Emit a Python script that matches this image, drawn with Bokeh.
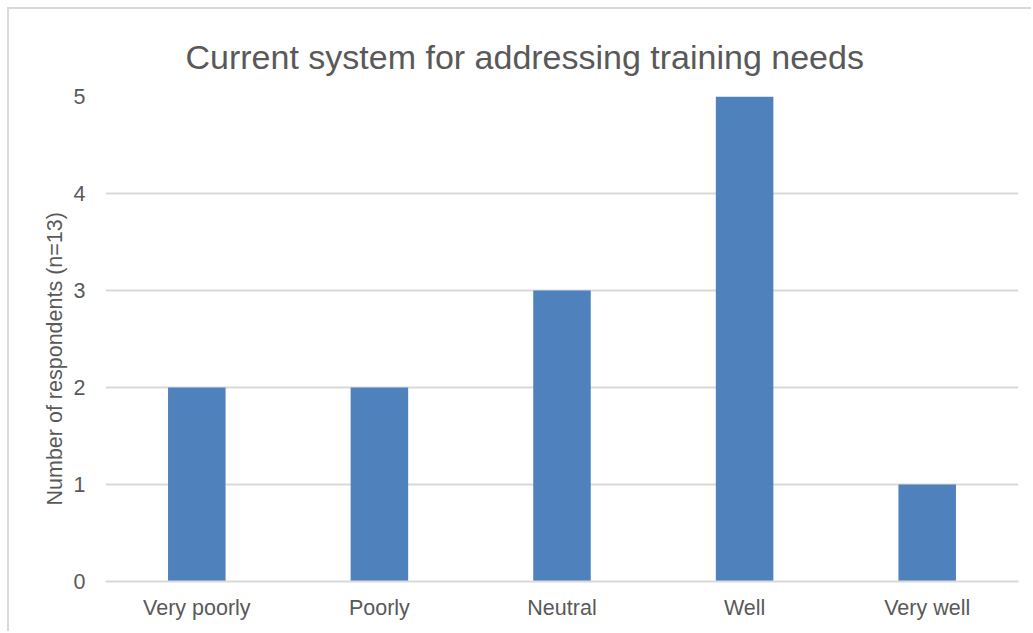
from bokeh.plotting import figure
from bokeh.models import ColumnDataSource, Range1d, FixedTicker, Title
from bokeh.embed import file_html
from bokeh.resources import INLINE

# Survey responses
categories = ["Very poorly", "Poorly", "Neutral", "Well", "Very well"]
respondents = [2, 2, 3, 5, 1]
y_ticks = [0, 1, 2, 3, 4, 5]

TEXT = "#595959"
GRID = "#D9D9D9"
BAR = "#4F81BD"
FONT = "Liberation Sans"

source = ColumnDataSource(data=dict(cat=categories, n=respondents))

p = figure(
    x_range=categories,
    y_range=Range1d(0, 5),
    width=1024,
    height=624,
    output_backend="svg",
    toolbar_location=None,
    min_border_left=96,
    min_border_right=15,
    min_border_top=87,
    min_border_bottom=52,
    margin=(7, 0, 0, 7),
)
p.styles = {"border-top": "2px solid #D9D9D9", "border-left": "2px solid #D9D9D9"}

p.vbar(x="cat", top="n", width=0.315, source=source, fill_color=BAR, line_color=None)

p.title.text = "Current system for addressing training needs"
p.title.text_font = FONT
p.title.text_font_size = "34px"
p.title.text_font_style = "normal"
p.title.text_color = TEXT
p.title.align = "left"
p.title.offset = 80
p.title.vertical_align = "top"
p.title.text_line_height = 0.6
p.title.standoff = 37

# Vertical axis title, set as a side title so it can sit below centre
p.add_layout(Title(
    text="Number of respondents (n=13)",
    align="left", offset=76, standoff=8,
    text_font=FONT, text_font_size="21.5px", text_font_style="normal",
    text_color=TEXT,
), "left")

p.outline_line_color = None
p.background_fill_color = "white"
p.border_fill_color = "white"

p.xgrid.grid_line_color = None
p.ygrid.grid_line_color = GRID
p.ygrid.grid_line_width = 2
p.yaxis.ticker = FixedTicker(ticks=y_ticks)

for ax in (p.xaxis, p.yaxis):
    ax.major_label_text_font = FONT
    ax.major_label_text_font_size = "21.5px"
    ax.major_label_text_color = TEXT
    ax.major_tick_line_color = None
    ax.minor_tick_line_color = None
    ax.axis_line_color = None

p.xaxis.axis_line_color = GRID
p.xaxis.axis_line_width = 2
p.xaxis.major_label_standoff = 8
p.yaxis.major_label_standoff = 14

open("out.html", "w").write(file_html(p, INLINE))
